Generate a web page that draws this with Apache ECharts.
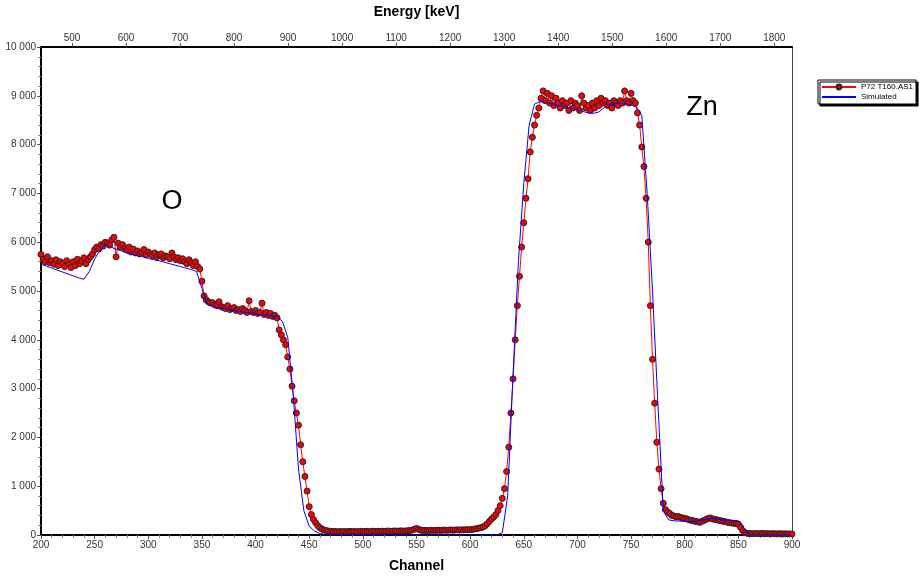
<!DOCTYPE html>
<html>
<head>
<meta charset="utf-8">
<script src="https://cdn.jsdelivr.net/npm/echarts@6/dist/echarts.min.js"></script>
<style>
  html, body { margin: 0; padding: 0; background: #fff; }
  #spectrum { width: 919px; height: 578px; }
</style>
</head>
<body>
<div id="spectrum"></div>
<script>
// measured spectrum, channels 200..900 step 2
var expStart = 200, expStep = 2;
var expCounts = [
  5750,5650,5600,5700,5580,5620,5550,5640,5520,5600,
  5560,5500,5620,5540,5480,5600,5520,5650,5560,5620,
  5680,5560,5640,5700,5760,5850,5900,5860,5950,5920,
  6000,5980,5940,6050,6100,5700,5980,5900,5950,5880,
  5840,5900,5800,5860,5780,5820,5760,5800,5850,5740,
  5800,5760,5720,5780,5700,5740,5760,5680,5720,5700,
  5660,5780,5700,5640,5680,5620,5660,5600,5560,5640,
  5580,5520,5600,5500,5450,5200,4900,4820,4780,4760,
  4760,4720,4700,4780,4680,4660,4640,4700,4620,4640,
  4660,4600,4620,4580,4640,4600,4560,4800,4580,4560,
  4600,4540,4560,4750,4520,4560,4500,4540,4480,4500,
  4450,4200,4100,4000,3900,3650,3400,3050,2750,2500,
  2250,1850,1500,1200,900,580,420,320,250,190,
  150,120,100,90,80,75,70,72,65,70,
  68,72,66,70,74,68,72,70,66,74,
  70,72,76,68,74,78,72,76,70,80,
  74,78,82,76,80,84,78,82,86,80,
  84,88,92,100,118,135,115,98,92,96,
  90,94,98,92,96,100,94,98,102,96,
  100,104,98,102,106,100,108,104,110,106,
  110,115,122,130,140,150,165,190,230,280,
  330,370,420,500,600,750,950,1300,1800,2500,
  3200,4000,4700,5300,5900,6400,6900,7300,7850,8150,
  8400,8600,8750,8950,9100,8900,9050,8850,9000,8800,
  8950,8850,8750,8900,8800,8850,8700,8900,8750,8850,
  8800,8700,9000,8850,8750,8800,8700,8850,8750,8900,
  8800,8950,8850,8900,8800,8850,8750,8900,8850,8800,
  8900,8850,9100,8900,8850,9050,8900,8850,8650,8400,
  7950,7550,6900,6000,4700,3600,2700,1900,1350,950,
  650,520,470,440,400,390,370,380,360,350,
  340,330,310,300,290,280,270,260,280,300,
  320,340,350,330,320,310,300,290,280,270,
  260,250,245,240,235,220,160,90,50,35,
  30,28,25,30,28,26,30,25,28,26,
  24,28,25,22,26,24,22,25,20,22,
  20
];

// simulated spectrum, channels 200..900 step 5
var simStart = 200, simStep = 5;
var simCounts = [
  5550,5510,5470,5430,5390,5350,5310,5270,5240,5400,
  5650,5850,5940,5900,5860,5820,5780,5750,5720,5700,
  5670,5640,5620,5590,5560,5530,5500,5470,5440,5400,
  5050,4720,4680,4660,4640,4620,4600,4580,4560,4550,
  4530,4510,4500,4490,4470,4380,4050,2900,1350,500,
  180,80,30,10,0,0,0,0,0,0,
  0,0,0,0,0,0,0,0,0,0,
  0,0,0,0,0,0,0,0,0,0,
  0,0,0,0,0,0,50,800,3300,5600,
  7200,8400,8830,8880,8870,8840,8810,8790,8770,8740,
  8710,8680,8650,8640,8670,8760,8820,8840,8840,8830,
  8810,8770,8600,7000,5000,2700,500,310,290,285,
  280,275,280,300,320,340,330,310,300,295,
  290,150,10,0,0,0,0,0,0,0,
  0
];

// top axis: energy ticks and channel calibration
var energyTicks = [500,600,700,800,900,1000,1100,1200,1300,1400,1500,1600,1700,1800];
var keVPerChannel = 1.986;
var channelAt500 = 228.9;

function toChan(e) { return channelAt500 + (e - 500) / keVPerChannel; }
function toKeV(c) { return 500 + (c - channelAt500) * keVPerChannel; }

var expData = expCounts.map(function (v, i) { return [expStart + i * expStep, v]; });
var simData = simCounts.map(function (v, i) { return [simStart + i * simStep, v]; });
var energyChans = energyTicks.map(toChan);

var labelColor = '#333';
var font = 'Liberation Sans, Arial, sans-serif';

var myChart = echarts.init(document.getElementById('spectrum'));
myChart.setOption({
  animation: false,
  textStyle: { fontFamily: font },
  grid: { left: 41, right: 127, top: 44, bottom: 37 },
  legend: {
    left: 818, top: 80,
    orient: 'vertical',
    itemWidth: 34, itemHeight: 6, itemGap: 2,
    padding: [3, 3, 3, 3],
    borderColor: '#000', borderWidth: 1,
    backgroundColor: '#fff',
    shadowColor: '#000', shadowOffsetX: 2, shadowOffsetY: 2, shadowBlur: 0,
    textStyle: { fontSize: 8, color: '#000', fontFamily: font },
    data: [
      { name: 'P72 T160.AS1' },
      { name: 'Simulated', itemStyle: { opacity: 0 } }
    ]
  },
  xAxis: [{
    type: 'value', position: 'bottom',
    min: 200, max: 900, interval: 50,
    name: 'Channel', nameLocation: 'middle', nameGap: 24,
    nameTextStyle: { fontWeight: 'bold', fontSize: 14, color: '#000', fontFamily: font },
    axisLine: { show: true, onZero: false, lineStyle: { color: '#000', width: 2 } },
    axisTick: { show: true, length: 4, lineStyle: { color: '#555' } },
    minorTick: { show: true, splitNumber: 5, length: 3, lineStyle: { color: '#888' } },
    axisLabel: { fontSize: 10, color: labelColor, margin: 5 },
    splitLine: { show: false }
  }, {
    type: 'value', position: 'top',
    min: 200, max: 900,
    name: 'Energy [keV]', nameLocation: 'middle', nameGap: 28,
    nameTextStyle: { fontWeight: 'bold', fontSize: 14, color: '#000', fontFamily: font },
    axisLine: { show: true, onZero: false, lineStyle: { color: '#000', width: 2 } },
    axisTick: { show: true, length: 4, customValues: energyChans, lineStyle: { color: '#555' } },
    axisLabel: {
      fontSize: 10, color: labelColor, margin: 4,
      customValues: energyChans,
      formatter: function (v) { return String(Math.round(toKeV(v))); }
    },
    splitLine: { show: false }
  }],
  yAxis: [{
    type: 'value', min: 0, max: 10000, interval: 1000,
    axisLine: { show: true, onZero: false, lineStyle: { color: '#000', width: 2 } },
    axisTick: { show: true, length: 4, lineStyle: { color: '#555' } },
    minorTick: { show: true, splitNumber: 5, length: 3, lineStyle: { color: '#888' } },
    axisLabel: {
      fontSize: 10, color: labelColor, margin: 5,
      formatter: function (v) {
        if (v < 1000) return String(v);
        return Math.floor(v / 1000) + ' 000';
      }
    },
    splitLine: { show: false }
  }, {
    type: 'value', position: 'right', min: 0, max: 10000,
    axisLine: { show: true, lineStyle: { color: '#444', width: 1 } },
    axisTick: { show: false },
    axisLabel: { show: false },
    splitLine: { show: false }
  }],
  series: [{
    name: 'P72 T160.AS1',
    type: 'line',
    data: expData,
    symbol: 'circle',
    symbolSize: 6,
    showAllSymbol: true,
    itemStyle: { color: '#ff0000', borderColor: '#222', borderWidth: 1 },
    lineStyle: { color: '#ff0000', width: 1 },
    z: 2
  }, {
    name: 'Simulated',
    type: 'line',
    data: simData,
    symbol: 'none',
    lineStyle: { color: '#0000ff', width: 1 },
    itemStyle: { color: '#0000ff' },
    z: 3
  }],
  graphic: [{
    type: 'text', x: 172, y: 202,
    style: { text: 'O', fontSize: 27, fill: '#000', fontFamily: font, align: 'center', verticalAlign: 'middle' }
  }, {
    type: 'text', x: 702, y: 108,
    style: { text: 'Zn', fontSize: 27, fill: '#000', fontFamily: font, align: 'center', verticalAlign: 'middle' }
  }]
});
</script>
</body>
</html>
